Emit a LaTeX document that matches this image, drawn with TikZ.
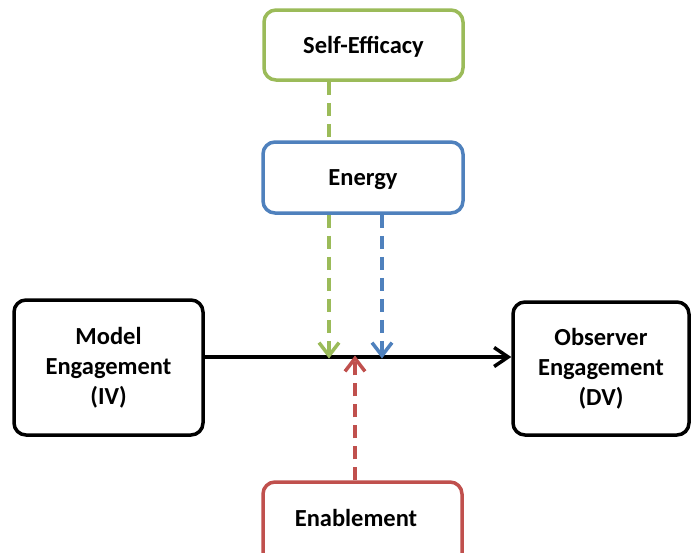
\documentclass[tikz,border=0pt]{standalone}
\usepackage{fontspec}
\setmainfont{Carlito}
\usetikzlibrary{arrows.meta}
\definecolor{cgreen}{HTML}{9BBB59}
\definecolor{cblue}{HTML}{4F81BD}
\definecolor{cred}{HTML}{C0504D}
\begin{document}
\begin{tikzpicture}[x=1pt,y=-1pt,
  box/.style={draw, line width=3.5pt, rounded corners=12pt, fill=white, align=center,
    font=\fontsize{24.5}{30}\selectfont\bfseries, inner sep=0pt},
  lbl/.style={font=\fontsize{24.5}{30}\selectfont\bfseries, inner sep=0pt},
  dashline/.style={line width=3.5pt, dash pattern=on 13pt off 8pt},
  tip/.style={-{Straight Barb[length=13pt,width=20pt,line width=3.5pt]}}
]
\useasboundingbox (0,0) rectangle (691,552);
\clip (0,0) rectangle (691,552);
\fill[white] (0,0) rectangle (691,552);

\node[box, draw=cgreen, minimum width=199pt, minimum height=70pt, text depth=0pt] (self) at (363.5,45) {Self-Efficacy};
\node[box, draw=cblue, minimum width=200pt, minimum height=71pt, text depth=0pt] (energy) at (363,177.5) {Energy};
\node[box, minimum width=189pt, minimum height=135pt] (model) at (108.5,367.5) {Model\\Engagement\\(IV)};
\node[box, minimum width=176pt, minimum height=133pt] (obs) at (601,368.5) {Observer\\Engagement\\(DV)};
\node[box, draw=cred, minimum width=199pt, minimum height=90pt] (enab) at (362.5,527) {};
\node[lbl] (enabtext) at (356,518) {Enablement};

\coordinate (ly) at (0,357);
\coordinate (gx) at (329,0);
\coordinate (bx) at (382,0);
\coordinate (rx) at (355,0);

\draw[line width=3.5pt, -{Straight Barb[length=14pt,width=19pt,line width=3.5pt]}] (model.east |- ly) -- (obs.west |- ly);

\draw[dashline, cgreen] (self.south -| gx) -- (energy.north -| gx);
\draw[dashline, cgreen, tip] (energy.south -| gx) -- ([yshift=-1.5pt]gx |- ly);
\draw[dashline, cblue, tip] (energy.south -| bx) -- ([yshift=-1.5pt]bx |- ly);
\draw[dashline, cred, tip] (enab.north -| rx) -- ([yshift=1.5pt]rx |- ly);
\end{tikzpicture}
\end{document}
